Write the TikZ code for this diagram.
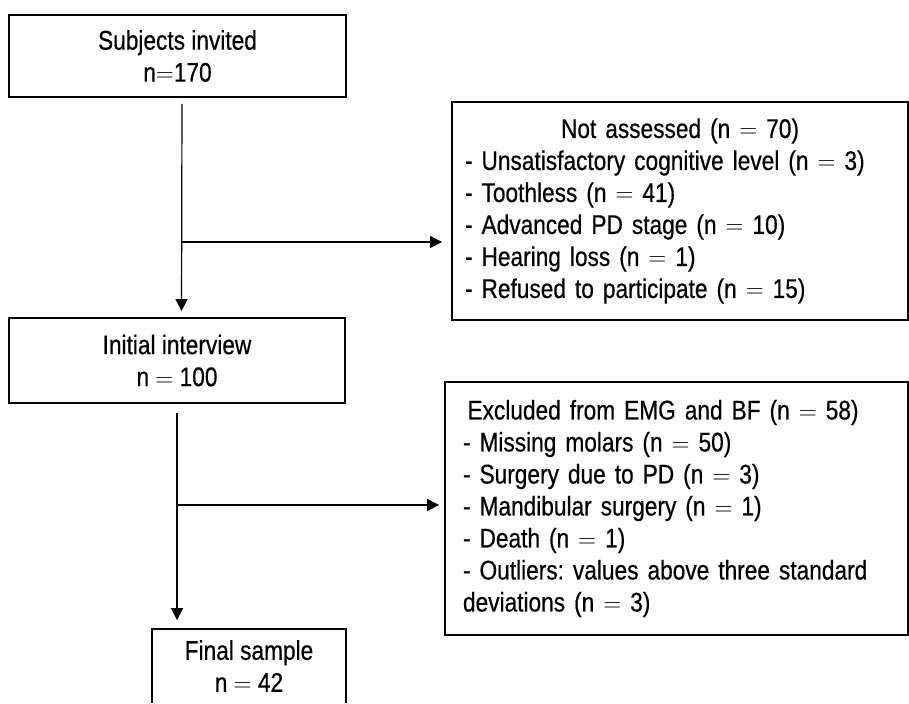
\documentclass[tikz,border=0pt]{standalone}
\usepackage{fontspec}
\setmainfont{Liberation Sans}[FakeStretch=0.84, FakeBold=0.5]
\usetikzlibrary{arrows.meta}
\newcommand{\boxtitle}[2]{\makebox[#1][c]{#2}}

\begin{document}
\frenchspacing
\begin{tikzpicture}[
  x=1pt,
  y=-1pt,
  every node/.style={font=\fontsize{27}{32}\selectfont, text=black},
  stage/.style={draw, line width=1.8pt, inner sep=0pt, align=center},
  reasons/.style={draw, line width=1.8pt, inner ysep=0pt, align=left},
  frame/.style={line width=1.8pt},
  flow/.style={line width=1.2pt, -{Triangle[length=12pt, width=12pt]}}
]
  % ---- page size of the flow chart ---------------------------------------
  \path (0,0) rectangle (909,701);

  % ---- main column -------------------------------------------------------
  \node[stage, minimum width=337pt, minimum height=82pt] (invited)
    at (177.5,56) {Subjects invited\\n$=$170};
  \node[stage, minimum width=336pt, minimum height=85pt] (interview)
    at (177,360.5) {Initial interview\\n $=$ 100};
  \node[stage, draw=none, minimum width=192pt, minimum height=72pt] (final)
    at (249,666) {Final sample\\n $=$ 42};
  % the last box runs off the bottom of the page
  \draw[frame] (final.south west) |- (final.north east) -- (final.south east);

  % ---- boxes of the losses -----------------------------------------------
  \node[reasons, inner xsep=13pt, text width=430pt, minimum height=218pt]
    (notassessed) at (680,211)
    {\boxtitle{430pt}{Not assessed (n $=$ 70)}\\
     - Unsatisfactory cognitive level (n $=$ 3)\\
     - Toothless (n $=$ 41)\\
     - Advanced PD stage (n $=$ 10)\\
     - Hearing loss (n $=$ 1)\\
     - Refused to participate (n $=$ 15)};
  \node[reasons, inner xsep=18pt, text width=427pt, minimum height=253pt]
    (excluded) at (676.5,508.5)
    {\boxtitle{400pt}{Excluded from EMG and BF (n $=$ 58)}\\
     - Missing molars (n $=$ 50)\\
     - Surgery due to PD (n $=$ 3)\\
     - Mandibular surgery (n $=$ 1)\\
     - Death (n $=$ 1)\\
     - Outliers: values above three standard\\
     deviations (n $=$ 3)};

  % ---- arrows ------------------------------------------------------------
  \coordinate (split1) at (182,242);
  \coordinate (split2) at (178,505);
  \draw[flow, shorten <=6pt, shorten >=6pt]
    ([xshift=4.5pt]invited.south) -- ([xshift=4.5pt]interview.north);
  \draw[flow, shorten >=9pt] (split1) -- (split1 -| notassessed.west);
  \draw[flow, shorten <=9pt, shorten >=9pt]
    (interview.south) -- (interview.south |- final.north);
  \draw[flow, shorten >=5pt] (split2) -- (split2 -| excluded.west);
\end{tikzpicture}
\end{document}
